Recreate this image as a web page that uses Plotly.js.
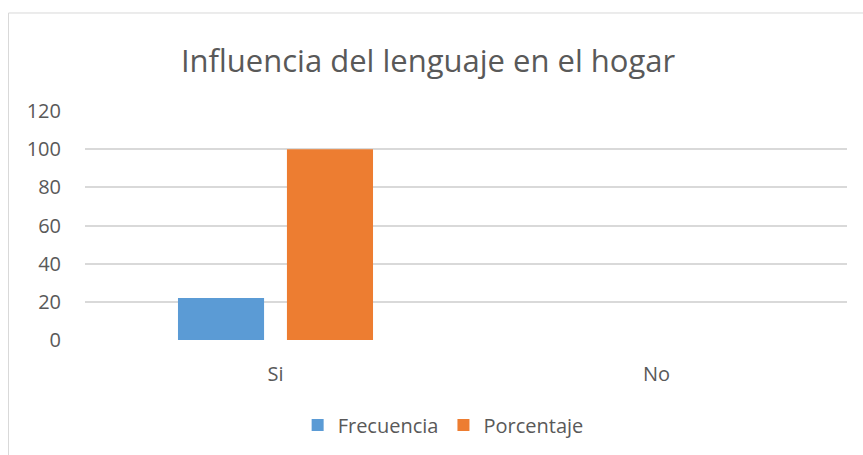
<!DOCTYPE html>
<html>
<head>
<meta charset="utf-8">
<script src="https://cdn.plot.ly/plotly-3.0.1.min.js"></script>
<style>
html,body{margin:0;padding:0;background:#fff;}
#chart{width:863px;height:455px;}
</style>
</head>
<body>
<div id="chart"></div>
<script>
const categories = ["Si", "No"];
const frecuencia = [22, 0];
const porcentaje = [100, 0];
const yTicks = [0, 20, 40, 60, 80, 100, 120];
const seriesNames = ["Frecuencia", "Porcentaje"];

const FONT = "Open Sans, Lato, sans-serif";
const GRAY = "#595959";

const traces = [
  {type: "bar", name: seriesNames[0], x: categories, y: frecuencia, marker: {color: "#5B9BD5"}, hoverinfo: "none"},
  {type: "bar", name: seriesNames[1], x: categories, y: porcentaje, marker: {color: "#ED7D31"}, hoverinfo: "none"}
];

const layout = {
  width: 863, height: 455,
  margin: {l: 85, r: 16, t: 111, b: 114, pad: 0},
  paper_bgcolor: "#fff", plot_bgcolor: "#fff",
  font: {family: FONT, color: GRAY, size: 20},
  title: {text: "Influencia del lenguaje en el hogar", x: 0.496, xanchor: "center", xref: "container",
          y: 0.865, yanchor: "middle", yref: "container",
          font: {family: FONT, size: 31, color: GRAY}},
  barmode: "group", bargap: 0.428, bargroupgap: 0.21,
  xaxis: {type: "category", showgrid: false, zeroline: false, showline: false, ticks: "",
          tickfont: {size: 20, color: GRAY}, ticklabelstandoff: 20, fixedrange: true},
  yaxis: {range: [0, 120], tickvals: yTicks, showgrid: true, gridcolor: "#D9D9D9", gridwidth: 2,
          zeroline: false, showline: false, ticks: "", tickfont: {size: 20, color: GRAY},
          ticklabelstandoff: 23, fixedrange: true},
  showlegend: true,
  legend: {orientation: "h", x: 0.47, xanchor: "center", y: -0.365, yanchor: "middle",
           font: {size: 20, color: GRAY}, itemwidth: 30, traceorder: "normal"},
  shapes: [
    {type: "rect", xref: "paper", yref: "paper", x0: -0.1004, x1: 1.1, y0: -0.6, y1: 1.428,
     line: {color: "#D9D9D9", width: 1}, fillcolor: "rgba(0,0,0,0)", layer: "below"}
  ]
};

Plotly.newPlot("chart", traces, layout, {displayModeBar: false, staticPlot: true});
</script>
</body>
</html>
